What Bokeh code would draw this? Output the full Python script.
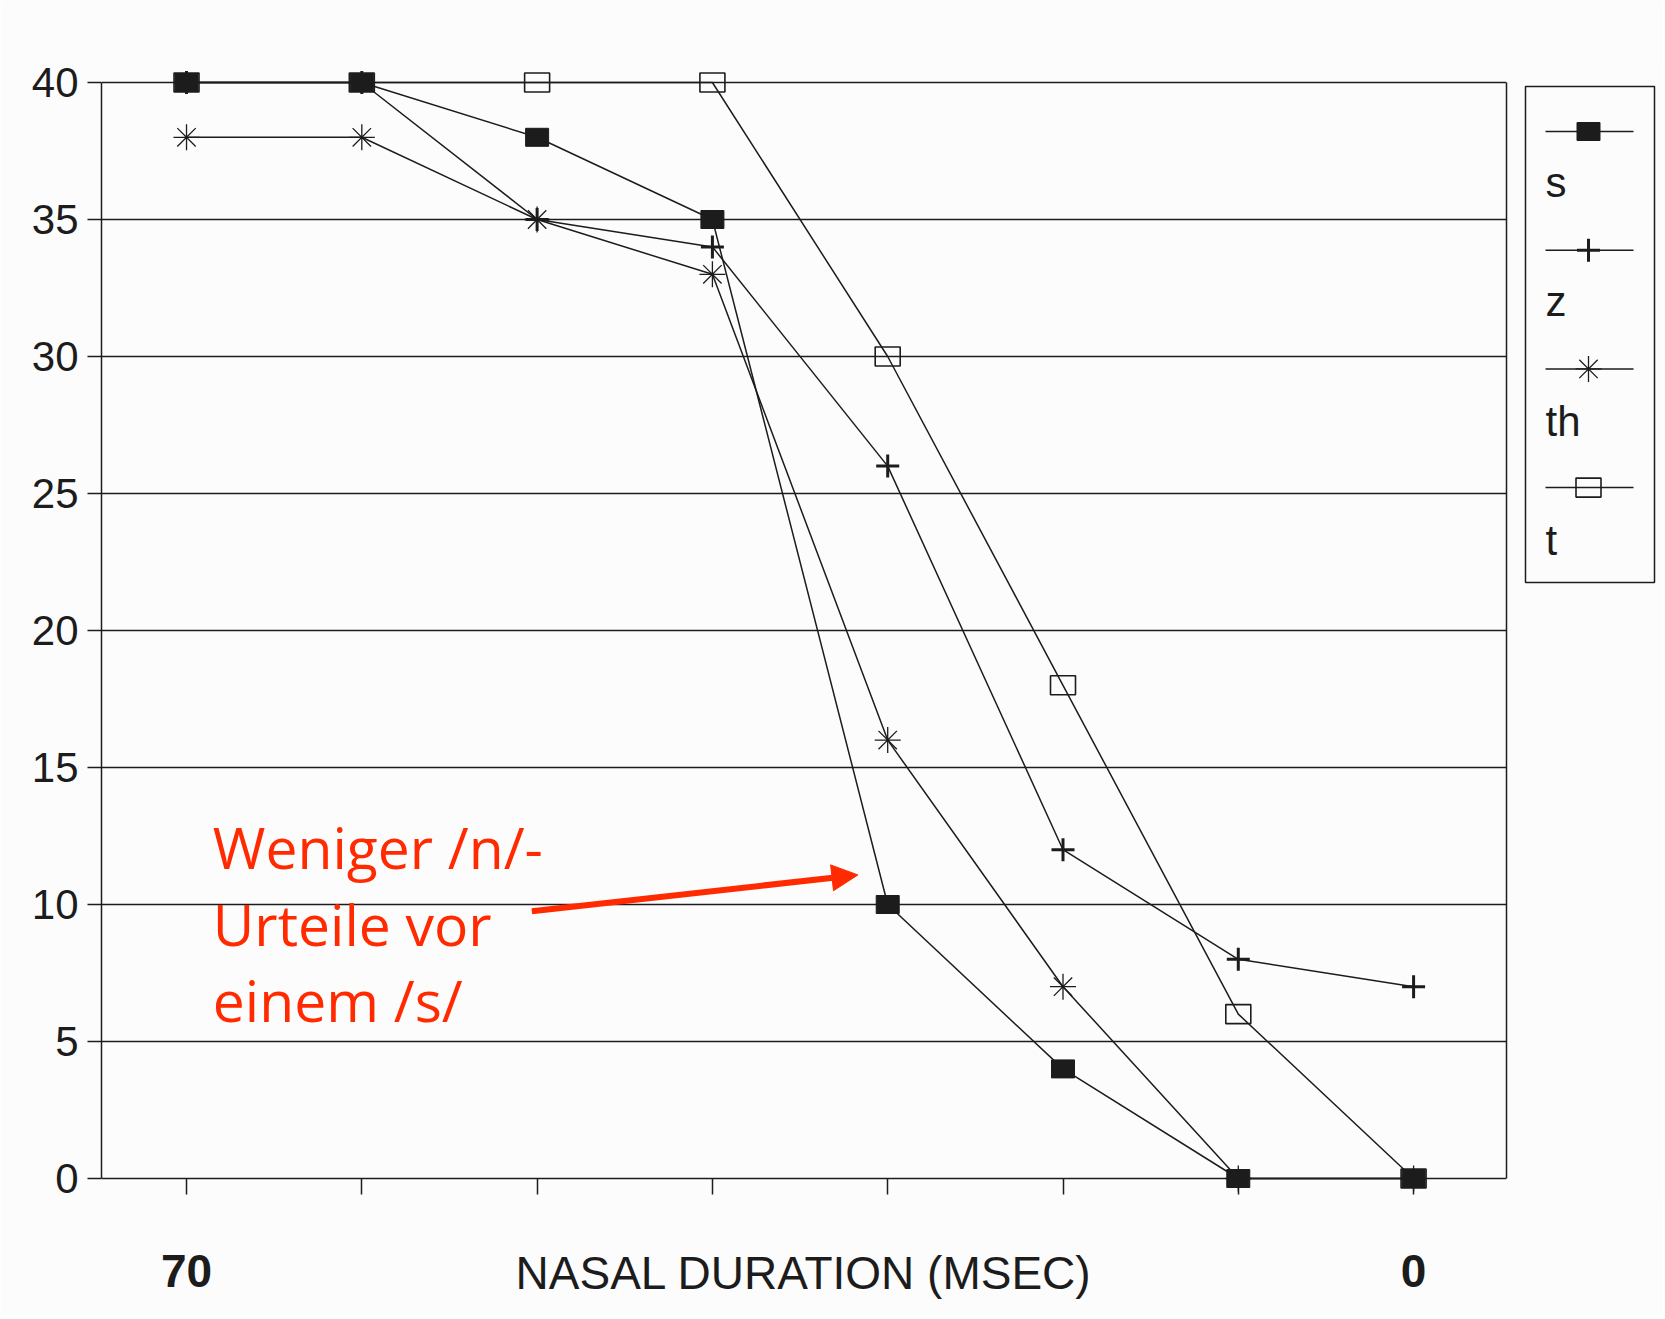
import math
from bokeh.plotting import figure
from bokeh.models import Range1d, FixedTicker, Label, Arrow, NormalHead, LinearAxis
from bokeh.layouts import row
from bokeh.embed import file_html
from bokeh.resources import INLINE
from bokeh.core.properties import value

# ---------------- data ----------------
durations = [70, 60, 50, 40, 30, 20, 10, 0]          # nasal duration (msec)
s_vals = [40, 40, 38, 35, 10, 4, 0, 0]
z_vals = [40, 40, 35, 34, 26, 12, 8, 7]
th_vals = [38, 38, 35, 33, 16, 7, 0, 0]
t_vals = [40, 40, 40, 40, 30, 18, 6, 0]
series_names = ["s", "z", "th", "t"]
y_ticks = [0, 5, 10, 15, 20, 25, 30, 35, 40]
x_tick_labels = {70: "70", 0: "0"}
x_title = "NASAL DURATION (MSEC)"
note_lines = ["Weniger /n/-", "Urteile vor", "einem /s/"]

# annotation placement (data units)
note_x = 68.5
note_baselines = [12.09, 9.28, 6.51]
arrow_from = (50.3, 9.75)
arrow_to = (31.7, 11.08)

# ---------------- style ----------------
INK = "#1c1c1c"
BG = "#fcfcfc"
RED = "#ff2a00"
FONT = "Liberation Sans"
W, H = 1518, 1315
Y_TOP_PX, PLOT_H = 82, 1096          # pixel row of y=40, pixel height of 0..40
PAD_PX = 16                          # room so markers at 0 and 40 are not clipped
PAD = PAD_PX * 40 / PLOT_H
TOP = Y_TOP_PX - PAD_PX
FRAME_H = PLOT_H + 2 * PAD_PX
BOTTOM = H - TOP - FRAME_H

p = figure(width=W, height=H, x_range=Range1d(74.85, -5.3), y_range=Range1d(-PAD, 40 + PAD),
           output_backend="svg", toolbar_location=None,
           min_border_left=101, min_border_right=12, min_border_top=TOP,
           min_border_bottom=BOTTOM)
p.background_fill_color = BG
p.border_fill_color = BG
p.outline_line_color = None

# x axis (ticks hang below the y=0 line, inside the padded frame)
p.xaxis.ticker = FixedTicker(ticks=durations)
p.xaxis.major_label_overrides = {d: x_tick_labels.get(d, "") for d in durations}
p.xaxis.major_label_text_font = FONT
p.xaxis.major_label_text_font_style = "bold"
p.xaxis.major_label_text_font_size = "46px"
p.xaxis.major_label_text_color = INK
p.xaxis.major_label_standoff = 60
p.xaxis.major_tick_out = 0
p.xaxis.major_tick_in = PAD_PX
p.xaxis.minor_tick_line_color = None
p.xaxis.axis_line_color = None
p.xaxis.major_tick_line_color = INK
p.xaxis.major_tick_line_width = 1.5
p.xaxis.axis_label = x_title
p.xaxis.axis_label_text_font = FONT
p.xaxis.axis_label_text_font_style = "normal"
p.xaxis.axis_label_text_font_size = "46px"
p.xaxis.axis_label_text_color = INK
p.xaxis.axis_label_standoff = -43

# y axis
p.yaxis.ticker = FixedTicker(ticks=y_ticks)
p.yaxis.bounds = (0, 40)
p.yaxis.major_label_text_font = FONT
p.yaxis.major_label_text_font_size = "42px"
p.yaxis.major_label_text_color = INK
p.yaxis.major_label_standoff = 9
p.yaxis.major_tick_out = 14
p.yaxis.major_tick_in = 0
p.yaxis.minor_tick_line_color = None
p.yaxis.axis_line_color = INK
p.yaxis.axis_line_width = 1.5
p.yaxis.major_tick_line_color = INK
p.yaxis.major_tick_line_width = 1.5

# right border of the plot box
right_ax = LinearAxis(bounds=(0, 40), ticker=FixedTicker(ticks=[]),
                      major_label_text_font_size="0px", axis_line_color=INK,
                      axis_line_width=1.5, major_tick_line_color=None,
                      minor_tick_line_color=None)
p.add_layout(right_ax, "right")

p.xgrid.visible = False
p.ygrid.ticker = FixedTicker(ticks=y_ticks)
p.ygrid.grid_line_color = INK
p.ygrid.grid_line_width = 1.4

# ---------------- series ----------------
LW = 1.5
def draw_marker(fig, name, xs, ys):
    if name == "s":
        fig.rect(xs, ys, width=23, height=18, width_units="screen", height_units="screen",
                 fill_color=INK, line_color=INK)
    elif name == "t":
        fig.rect(xs, ys, width=25, height=19, width_units="screen", height_units="screen",
                 fill_color=None, line_color=INK, line_width=1.6)
    elif name == "z":
        fig.scatter(xs, ys, marker="cross", size=23, line_color=INK, line_width=3)
    elif name == "th":
        fig.scatter(xs, ys, marker="asterisk", size=26, angle=math.pi / 2,
                    line_color=INK, line_width=1.3)

series = {"s": s_vals, "z": z_vals, "th": th_vals, "t": t_vals}
draw_order = ["t", "th", "z", "s"]
for name in draw_order:
    p.line(durations, series[name], line_color=INK, line_width=LW)
for name in draw_order:
    draw_marker(p, name, durations, series[name])

# red annotation
for line_text, yb in zip(note_lines, note_baselines):
    p.add_layout(Label(x=note_x, y=yb, text=line_text, text_align="left",
                       text_baseline="alphabetic", text_font="Open Sans",
                       text_font_size="57px", text_color=RED))
p.add_layout(Arrow(end=NormalHead(size=26, fill_color=RED, line_color=RED),
                   x_start=arrow_from[0], y_start=arrow_from[1],
                   x_end=arrow_to[0], y_end=arrow_to[1],
                   line_color=RED, line_width=6))

# ---------------- legend (separate panel, frame aligned with main frame) ----------------
LEG_W = 1665 - W - 2
LEG_LEFT = 3
LEG_FW = LEG_W - LEG_LEFT - 3
leg = figure(width=LEG_W, height=H, x_range=Range1d(0, LEG_FW), y_range=Range1d(FRAME_H, 0),
             x_axis_type=None, y_axis_type=None, output_backend="svg", toolbar_location=None,
             min_border_left=LEG_LEFT, min_border_right=LEG_W - LEG_LEFT - LEG_FW,
             min_border_top=TOP, min_border_bottom=BOTTOM)
leg.background_fill_color = BG
leg.border_fill_color = BG
leg.outline_line_color = None

# box (offsets in px from panel frame top-left)
box_l, box_r, box_t, box_b = 4, 133, 86 - TOP, 582 - TOP
leg.quad(left=[box_l], right=[box_r], top=[box_t], bottom=[box_b],
         fill_color=BG, line_color=INK, line_width=1.5)

n = len(series_names)
line_ys = [131 - TOP + 118.7 * i for i in range(n)]
label_ys = [182 - TOP + 119.3 * i for i in range(n)]
leg.segment(x0=[box_l + 20] * n, y0=line_ys, x1=[box_l + 108] * n, y1=line_ys,
            line_color=INK, line_width=LW)
for i, name in enumerate(series_names):
    draw_marker(leg, name, [box_l + 63], [line_ys[i]])
leg.text(x=[box_l + 20] * n, y=label_ys, text=series_names, text_align="left",
         text_baseline="alphabetic", text_font=value(FONT), text_font_size="42px",
         text_color=INK)

layout = row(p, leg)
open("out.html", "w").write(file_html(layout, INLINE))
